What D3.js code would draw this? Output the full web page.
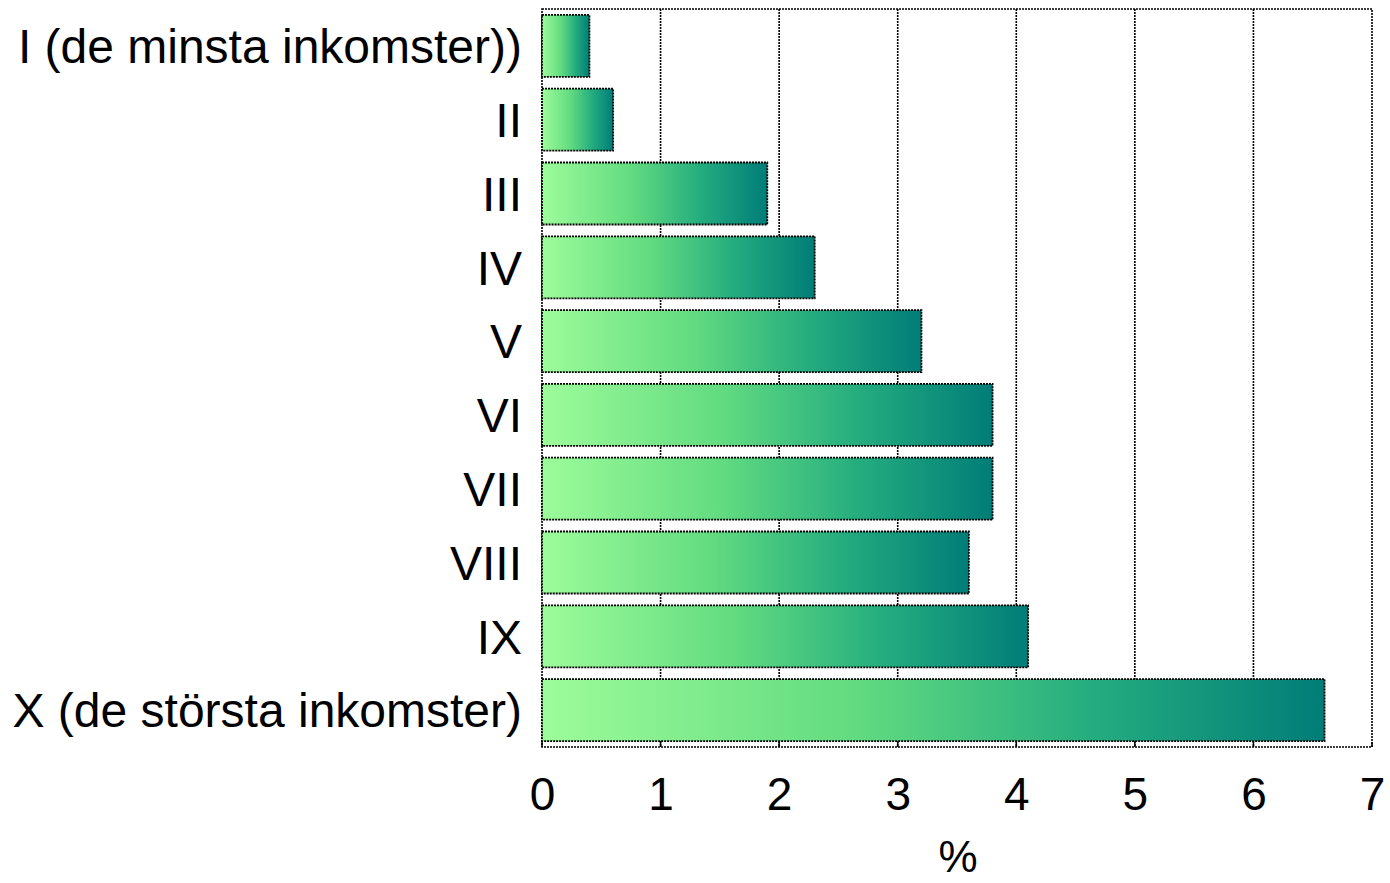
<!DOCTYPE html>
<html><head><meta charset="utf-8">
<script src="https://cdn.jsdelivr.net/npm/d3@7"></script>
<style>body{margin:0;background:#fff}svg{display:block;font-family:"Liberation Sans",Arial,sans-serif}</style>
</head><body><svg id="c" width="1390" height="883"></svg>
<script>
const categories = ["I (de minsta inkomster))","II","III","IV","V","VI","VII","VIII","IX","X (de största inkomster)"];
const values = [0.4,0.6,1.9,2.3,3.2,3.8,3.8,3.6,4.1,6.6];
const xTicks = [0,1,2,3,4,5,6,7];
const xTitle = "%";

const svg = d3.select("#c");
const L=542,R=1372,T=9,B=747;
const x = d3.scaleLinear().domain([0,7]).range([L,R]);
const y = d3.scaleBand().domain(categories).range([T,B]).paddingInner(0.16).paddingOuter(0.08);

const defs = svg.append("defs");
const grad = defs.append("linearGradient").attr("id","g").attr("x1","0").attr("x2","1").attr("y1","0").attr("y2","0");
grad.append("stop").attr("offset","0").attr("stop-color","#9dfc9a");
grad.append("stop").attr("offset","0.4").attr("stop-color","#62db80");
grad.append("stop").attr("offset","0.7").attr("stop-color","#25ad7f");
grad.append("stop").attr("offset","1").attr("stop-color","#007d78");

const dash = "2,1";
svg.append("g").selectAll("line").data(xTicks.filter(d=>d>0&&d<7)).join("line")
  .attr("x1",d=>x(d)).attr("x2",d=>x(d)).attr("y1",T).attr("y2",B)
  .attr("stroke","#000").attr("stroke-width",1.6).attr("stroke-dasharray",dash);
svg.append("rect").attr("x",L).attr("y",T).attr("width",R-L).attr("height",B-T)
  .attr("fill","none").attr("stroke","#000").attr("stroke-width",1.6).attr("stroke-dasharray",dash);

svg.append("g").selectAll("rect").data(values).join("rect")
  .attr("x",x(0)).attr("y",(d,i)=>y(categories[i]))
  .attr("width",d=>x(d)-x(0)).attr("height",y.bandwidth())
  .attr("fill","url(#g)").attr("stroke","#000").attr("stroke-width",1.8).attr("stroke-dasharray",dash);

const xa = svg.append("g").attr("transform",`translate(0,${B})`)
  .call(d3.axisBottom(x).tickValues(xTicks).tickFormat(d3.format("d")).tickSize(0).tickPadding(30));
xa.select(".domain").remove();
xa.selectAll("text").attr("font-size",46).attr("fill","#000").attr("font-family","Liberation Sans, Arial, sans-serif");
svg.append("g").selectAll("line").data(xTicks).join("line")
  .attr("x1",d=>x(d)).attr("x2",d=>x(d)).attr("y1",B).attr("y2",B-5)
  .attr("stroke","#000").attr("stroke-width",1.5);

const ya = svg.append("g").attr("transform",`translate(${L},2)`)
  .call(d3.axisLeft(y).tickSize(0).tickPadding(20));
ya.select(".domain").remove();
ya.selectAll("text").attr("font-size",48).attr("fill","#000").attr("font-family","Liberation Sans, Arial, sans-serif");

svg.append("text").attr("x",(L+R)/2 + 1).attr("y",872).attr("text-anchor","middle")
  .attr("font-size",44).text(xTitle);
</script></body></html>
